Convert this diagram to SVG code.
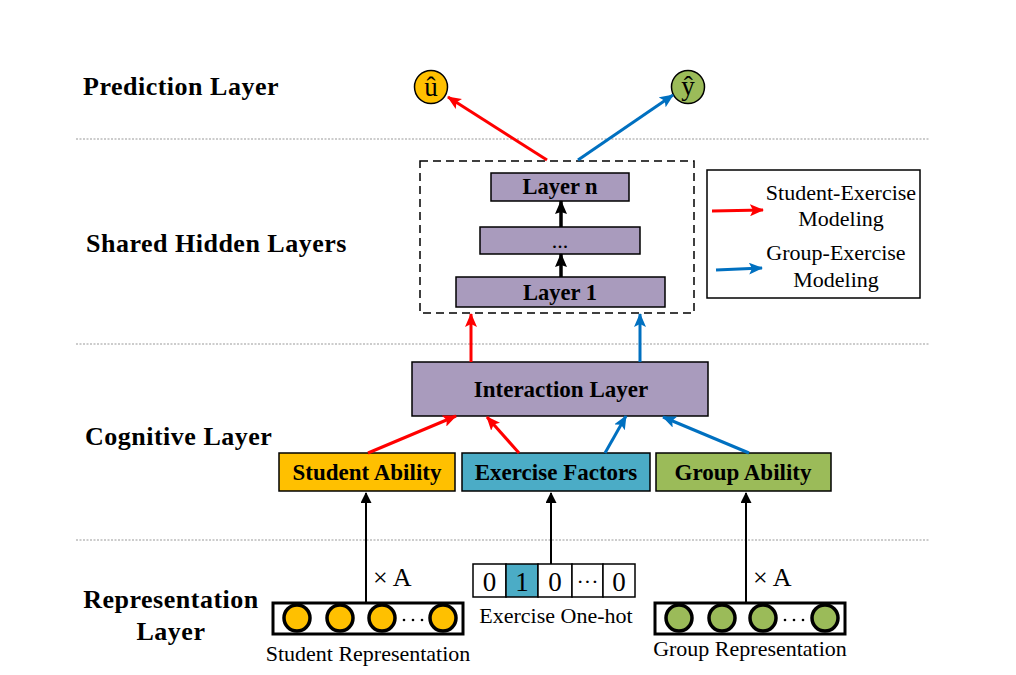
<svg xmlns="http://www.w3.org/2000/svg" width="1016" height="675" viewBox="0 0 1016 675">
<defs>
<marker id="mr" viewBox="0 0 14 12" refX="13" refY="6" markerWidth="14" markerHeight="12" markerUnits="userSpaceOnUse" orient="auto"><path d="M0,0 L14,6 L0,12 L3,6 Z" fill="#FF0000"/></marker>
<marker id="mb" viewBox="0 0 14 12" refX="13" refY="6" markerWidth="14" markerHeight="12" markerUnits="userSpaceOnUse" orient="auto"><path d="M0,0 L14,6 L0,12 L3,6 Z" fill="#0070C0"/></marker>
<marker id="mk" viewBox="0 0 14 12" refX="13" refY="6" markerWidth="14" markerHeight="12" markerUnits="userSpaceOnUse" orient="auto"><path d="M0,0 L14,6 L0,12 L2,6 Z" fill="#000"/></marker>
<marker id="mk2" viewBox="0 0 10 10" refX="9" refY="5" markerWidth="12" markerHeight="11" markerUnits="userSpaceOnUse" orient="auto"><path d="M0,0 L10,5 L0,10 Z" fill="#000"/></marker>
</defs>
<style>
.sec{font-family:"Liberation Serif","Times New Roman",serif;font-weight:bold;font-size:26px;fill:#000}
.bl{font-family:"Liberation Serif","Times New Roman",serif;font-weight:bold;font-size:22.5px;fill:#000}
.bb{font-size:23px}
.rg{font-family:"Liberation Serif","Times New Roman",serif;font-size:22px;fill:#000}
.big{font-size:27px}
.xa{font-size:26px}
.dot{stroke:#999;stroke-width:1;stroke-dasharray:2 1.5;fill:none}
.box{stroke:#000;stroke-width:1.5}
.red{stroke:#FF0000;stroke-width:3;fill:none;marker-end:url(#mr)}
.blue{stroke:#0070C0;stroke-width:3;fill:none;marker-end:url(#mb)}
.blk{stroke:#000;stroke-width:3.5;fill:none;marker-end:url(#mk)}
.thin{stroke:#000;stroke-width:2;fill:none;marker-end:url(#mk2)}
.circ{stroke:#000;stroke-width:3.5}
</style>
<rect width="1016" height="675" fill="#fff"/>

<g id="separators">
<line class="dot" x1="76" y1="139" x2="930" y2="139"/>
<line class="dot" x1="76" y1="344" x2="930" y2="344"/>
<line class="dot" x1="76" y1="540" x2="930" y2="540"/>
</g>

<g id="section-labels">
<text class="sec" x="83" y="95" letter-spacing="0.5">Prediction Layer</text>
<text class="sec" x="86" y="252" letter-spacing="0.5">Shared Hidden Layers</text>
<text class="sec" x="85" y="445" letter-spacing="0.5">Cognitive Layer</text>
<text class="sec" x="171" y="608" text-anchor="middle" letter-spacing="0.5">Representation</text>
<text class="sec" x="171" y="640" text-anchor="middle" letter-spacing="0.5">Layer</text>
</g>

<g id="u-hat">
<circle cx="431" cy="87" r="16.5" fill="#FFC000" stroke="#000" stroke-width="1.5"/>
<text class="rg big" x="431" y="96" text-anchor="middle">û</text>
</g>
<g id="y-hat">
<circle cx="688" cy="87" r="16.5" fill="#9BBB59" stroke="#000" stroke-width="1.5"/>
<text class="rg big" x="688" y="95" text-anchor="middle">ŷ</text>
</g>

<g id="shared-hidden">
<rect x="420" y="161" width="274" height="152" fill="none" stroke="#000" stroke-width="1.5" stroke-dasharray="8 5"/>
</g>
<g id="layer-n">
<rect class="box" x="491" y="173" width="138" height="28" fill="#A99BBD"/>
<text class="bl" x="560" y="194" text-anchor="middle">Layer n</text>
</g>
<g id="layer-dots">
<rect class="box" x="480" y="227" width="160" height="27" fill="#A99BBD"/>
<text class="rg" x="560" y="248" text-anchor="middle">...</text>
</g>
<g id="layer-1">
<rect class="box" x="456" y="277" width="209" height="30" fill="#A99BBD"/>
<text class="bl" x="560" y="300" text-anchor="middle">Layer 1</text>
</g>

<g id="legend">
<rect x="707" y="170" width="213" height="128" fill="#fff" stroke="#000" stroke-width="1.5"/>
<line class="red" x1="712" y1="211" x2="763" y2="210"/>
<line class="blue" x1="716" y1="270" x2="762" y2="268"/>
<text class="rg" x="841" y="200" text-anchor="middle">Student-Exercise</text>
<text class="rg" x="841" y="226" text-anchor="middle">Modeling</text>
<text class="rg" x="836" y="260" text-anchor="middle">Group-Exercise</text>
<text class="rg" x="836" y="287" text-anchor="middle">Modeling</text>
</g>

<g id="interaction-layer">
<rect class="box" x="412" y="362" width="296" height="54" fill="#A99BBD"/>
<text class="bl bb" x="561" y="397" text-anchor="middle">Interaction Layer</text>
</g>

<g id="student-ability">
<rect class="box" x="279" y="453" width="176" height="38" fill="#FFC000"/>
<text class="bl bb" x="367" y="480" text-anchor="middle">Student Ability</text>
</g>
<g id="exercise-factors">
<rect class="box" x="462" y="453" width="188" height="38" fill="#4BACC6"/>
<text class="bl bb" x="556" y="480" text-anchor="middle">Exercise Factors</text>
</g>
<g id="group-ability">
<rect class="box" x="656" y="453" width="175" height="38" fill="#9BBB59"/>
<text class="bl bb" x="743" y="480" text-anchor="middle">Group Ability</text>
</g>

<g id="student-representation">
<rect x="273" y="603" width="190" height="31" fill="#fff" stroke="#000" stroke-width="3"/>
<circle class="circ" cx="297" cy="618" r="13" fill="#FFC000"/>
<circle class="circ" cx="340" cy="618" r="13" fill="#FFC000"/>
<circle class="circ" cx="382" cy="618" r="13" fill="#FFC000"/>
<circle class="circ" cx="443" cy="618" r="13" fill="#FFC000"/>
<circle cx="404" cy="620" r="1.3" fill="#000"/>
<circle cx="413" cy="620" r="1.3" fill="#000"/>
<circle cx="422" cy="620" r="1.3" fill="#000"/>
<text class="rg" x="368" y="661" text-anchor="middle">Student Representation</text>
</g>

<g id="exercise-onehot">
<rect class="box" x="473" y="564" width="33" height="33" fill="#fff"/>
<rect class="box" x="506" y="564" width="32" height="33" fill="#4BACC6"/>
<rect class="box" x="538" y="564" width="34" height="33" fill="#fff"/>
<rect class="box" x="572" y="564" width="31" height="33" fill="#fff"/>
<rect class="box" x="603" y="564" width="32" height="33" fill="#fff"/>
<text class="rg big" x="489.5" y="591" text-anchor="middle">0</text>
<text class="rg big" x="522" y="591" text-anchor="middle">1</text>
<text class="rg big" x="555" y="591" text-anchor="middle">0</text>
<text class="rg" x="587.5" y="589" text-anchor="middle">···</text>
<text class="rg big" x="619" y="591" text-anchor="middle">0</text>
<text class="rg" x="556" y="623" text-anchor="middle">Exercise One-hot</text>
</g>

<g id="group-representation">
<rect x="655" y="603" width="190" height="31" fill="#fff" stroke="#000" stroke-width="3"/>
<circle class="circ" cx="679" cy="618" r="13" fill="#9BBB59"/>
<circle class="circ" cx="722" cy="618" r="13" fill="#9BBB59"/>
<circle class="circ" cx="763" cy="618" r="13" fill="#9BBB59"/>
<circle class="circ" cx="825" cy="618" r="13" fill="#9BBB59"/>
<circle cx="785" cy="620" r="1.3" fill="#000"/>
<circle cx="794" cy="620" r="1.3" fill="#000"/>
<circle cx="803" cy="620" r="1.3" fill="#000"/>
<text class="rg" x="750" y="656" text-anchor="middle">Group Representation</text>
</g>

<g id="connectors">
<line class="red" x1="547" y1="160" x2="448" y2="97"/>
<line class="blue" x1="578" y1="160" x2="673" y2="95"/>
<line class="blk" x1="561" y1="277" x2="561" y2="254"/>
<line class="blk" x1="561" y1="227" x2="561" y2="201"/>
<line class="red" x1="471" y1="362" x2="471" y2="314"/>
<line class="blue" x1="640" y1="362" x2="640" y2="314"/>
<line class="red" x1="368" y1="453" x2="456" y2="416"/>
<line class="red" x1="519" y1="453" x2="487" y2="417"/>
<line class="blue" x1="605" y1="453" x2="626" y2="416"/>
<line class="blue" x1="749" y1="453" x2="663" y2="417"/>
<line class="thin" x1="366" y1="603" x2="366" y2="493"/>
<line class="thin" x1="551" y1="564" x2="551" y2="493"/>
<line class="thin" x1="746" y1="603" x2="746" y2="493"/>
<text class="rg xa" x="373" y="586">× A</text>
<text class="rg xa" x="753" y="586">× A</text>
</g>
</svg>
